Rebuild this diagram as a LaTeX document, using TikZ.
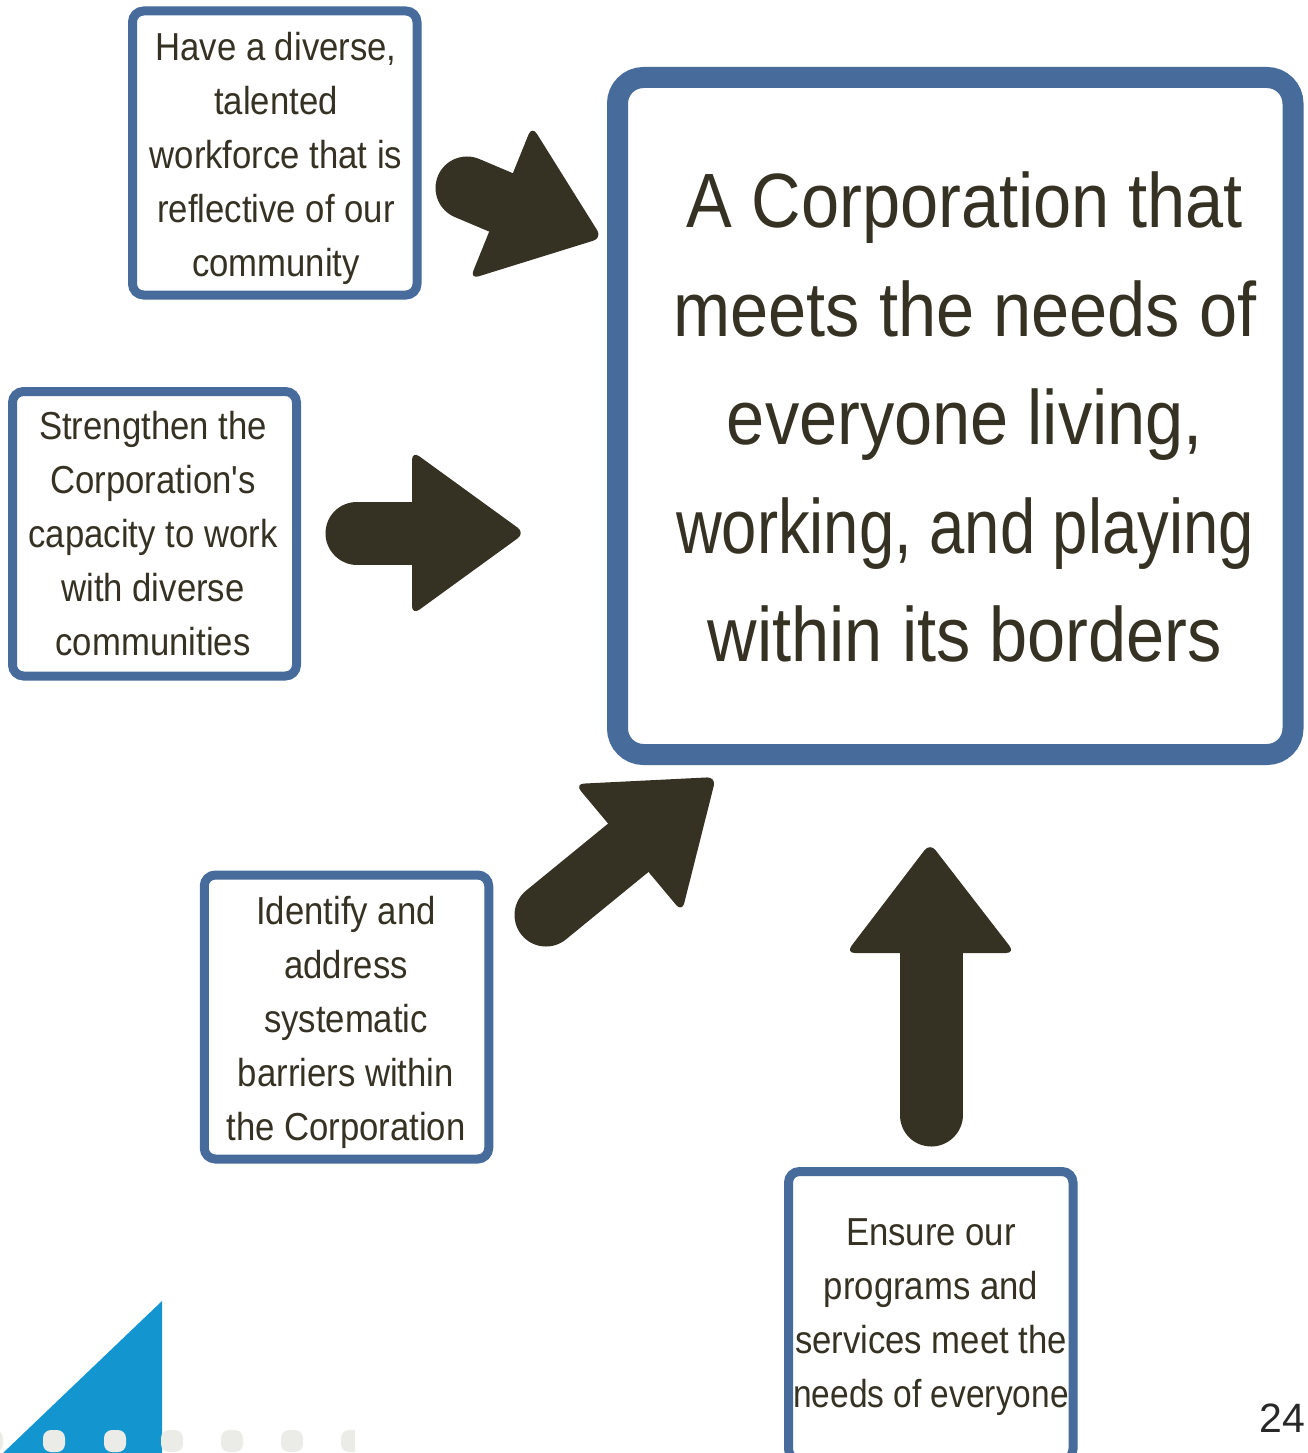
\documentclass[tikz,border=0pt]{standalone}
\usepackage{fontspec}
\setmainfont{Liberation Sans}[FakeStretch=0.89]
\newfontfamily\txtfont{Liberation Sans}[FakeStretch=0.89]
\newfontfamily\pnfont{Liberation Sans}
\definecolor{boxblue}{RGB}{71,108,156}
\definecolor{ink}{RGB}{53,49,35}
\definecolor{triblue}{RGB}{19,150,207}
\definecolor{dotgray}{RGB}{235,236,231}
\definecolor{pngray}{RGB}{40,40,40}
\begin{document}
\begin{tikzpicture}[x=1pt,y=-1pt,
  smallbox/.style={draw=boxblue, line width=9pt, rounded corners=11pt, fill=white,
    minimum width=284.5pt, minimum height=284pt, inner sep=0pt},
  mainbox/.style={draw=boxblue, line width=21pt, rounded corners=26pt, fill=white,
    minimum width=675.5pt, minimum height=677pt, inner sep=0pt},
  smalltext/.style={align=center, text=ink, inner sep=0pt, font=\txtfont\fontsize{39}{54}\selectfont},
  maintext/.style={align=center, text=ink, inner sep=0pt, font=\txtfont\fontsize{77}{108.5}\selectfont},
  shaft/.style={draw=ink, line width=63pt, line cap=round},
  head/.style={fill=ink, rounded corners=9pt}]
\useasboundingbox (0,0) rectangle (1307,1453);

% decorative triangle and dots
\fill[triblue] (3,1453) -- (162,1301) -- (162,1453) -- cycle;
\begin{scope}
  \clip (0,1400) rectangle (355,1453);
  \foreach \x in {-8,54,115,172,232,292,352}{
    \fill[dotgray, rounded corners=8pt] (\x-11,1430) rectangle (\x+11,1452);
  }
\end{scope}

% boxes
\begin{scope}
\clip (0,0) rectangle (1307,1453);
\node[mainbox] (main) at (955.25,416) {};
\node[smallbox] (b1) at (274.75,153) {};
\node[smallbox, minimum width=284pt, minimum height=284.5pt] (b2) at (154.5,533.75) {};
\node[smallbox] (b3) at (346.5,1017) {};
\node[smallbox, minimum height=288.5pt] (b4) at (930.75,1315.75) {};
\end{scope}

% texts
\node[maintext] (tmain) at (965,417) {A Corporation that\\meets the needs of\\everyone living,\\\scalebox{0.925}[1]{working, and playing}\\within its borders};
\node[smalltext] (t1) at (276,158) {Have a diverse,\\talented\\workforce that is\\reflective of our\\community};
\node[smalltext] (t2) at (153,534) {Strengthen the\\Corporation's\\capacity to work\\with diverse\\communities};
\node[smalltext] (t3) at (346,1022) {Identify and\\address\\systematic\\barriers within\\the Corporation};
\node[smalltext] (t4) at (931,1317) {Ensure our\\programs and\\services meet the\\\scalebox{0.965}[1]{needs of everyone}};

% arrows
\coordinate (a1tail) at (467,188); \coordinate (a1base) at (500,202);
\draw[shaft] (a1tail) -- (a1base);
\fill[head] (532,126) -- (602,238) -- (470,279) -- cycle;

\coordinate (a2tail) at (357,533); \coordinate (a2base) at (412,533);
\draw[shaft] (a2tail) -- (a2base);
\fill[head] (412,451) -- (525,533) -- (412,615) -- cycle;

\coordinate (a3tail) at (546,915); \coordinate (a3base) at (628,848);
\draw[shaft] (a3tail) -- (a3base);
\fill[head] (575,784) -- (716,777) -- (682,912) -- cycle;

\coordinate (a4tail) at (931,1115); \coordinate (a4base) at (931,952);
\draw[shaft] (a4tail) -- (a4base);
\fill[head] (930,843) -- (1015,953) -- (846,953) -- cycle;

% page number
\node[font=\pnfont\fontsize{41}{41}\selectfont, text=pngray, inner sep=0pt, anchor=east] (pn) at (1305,1418) {24};
\end{tikzpicture}
\end{document}
